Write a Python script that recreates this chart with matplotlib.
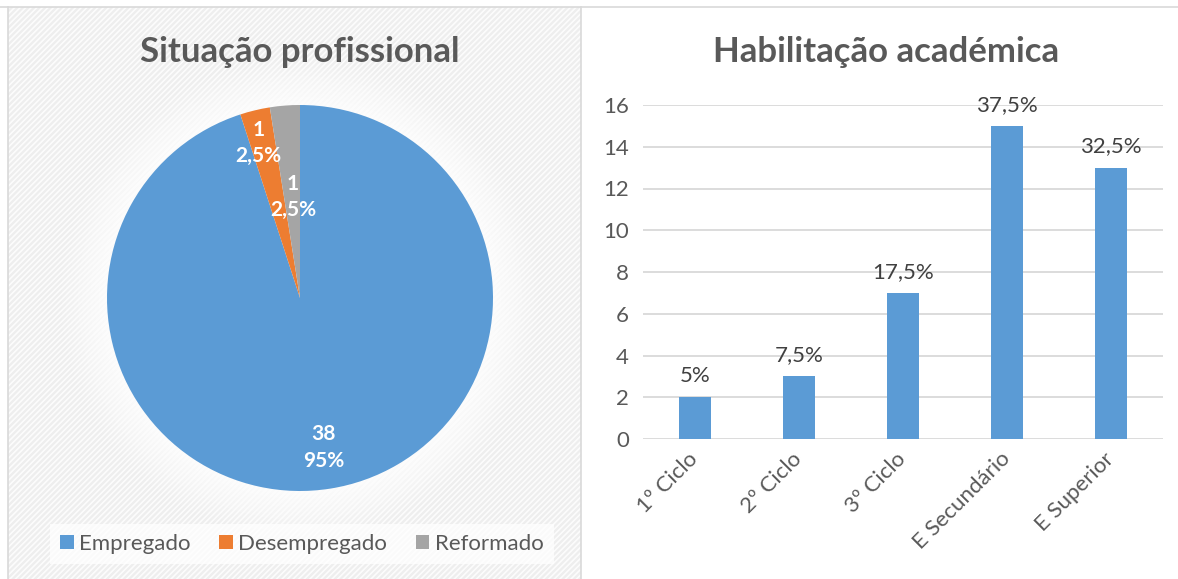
import numpy as np
import matplotlib
matplotlib.use("Agg")
import matplotlib.pyplot as plt
from matplotlib.patches import Rectangle, Circle

# ---- data ----
pie_title = "Situação profissional"
pie_labels = ["Empregado", "Desempregado", "Reformado"]
pie_values = [38, 1, 1]
pie_pct = ["95%", "2,5%", "2,5%"]

bar_title = "Habilitação académica"
bar_categories = ["1º Ciclo", "2º Ciclo", "3º Ciclo", "E Secundário", "E Superior"]
bar_values = [2, 3, 7, 15, 13]
bar_pct = ["5%", "7,5%", "17,5%", "37,5%", "32,5%"]
y_ticks = [0, 2, 4, 6, 8, 10, 12, 14, 16]

pie_colors = ["#5B9BD5", "#ED7D31", "#A5A5A5"]
bar_color = "#5B9BD5"
text_color = "#595959"
FONT = ["Lato", "DejaVu Sans"]
plt.rcParams["font.family"] = FONT
plt.rcParams["hatch.linewidth"] = 1.2

W, H = 1178, 579
fig = plt.figure(figsize=(W / 100, H / 100), dpi=100)
fig.patch.set_facecolor("white")

def fx(px):
    return px / W

def fy(py):
    return 1 - py / H

# left panel background
bg = Rectangle((fx(8), 0), fx(573), fy(7), transform=fig.transFigure,
               facecolor="#EEEEEE", edgecolor="#FCFCFC", hatch="//////",
               linewidth=0, zorder=-5)
fig.add_artist(bg)
# panel borders
fig.add_artist(plt.Line2D([0, 1], [fy(7), fy(7)], transform=fig.transFigure,
                          color="#D9D9D9", lw=1.2))
fig.add_artist(plt.Line2D([fx(8), fx(8)], [0, fy(7)], transform=fig.transFigure,
                          color="#D9D9D9", lw=1.2))
fig.add_artist(plt.Line2D([fx(581), fx(581)], [0, fy(7)], transform=fig.transFigure,
                          color="#D9D9D9", lw=1.2))

# ---- pie ----
axp = fig.add_axes([fx(300 - 193 * 1.3), fy(298 + 193 * 1.3), fx(386 * 1.3), 386 * 1.3 / H])
axp.set_facecolor("none")
axp.axis("off")
wedges, _ = axp.pie(pie_values, colors=pie_colors, startangle=90, counterclock=False,
                    radius=1.0, wedgeprops=dict(edgecolor="none", zorder=3))
# soft glow behind pie
for r, a in zip(np.linspace(1.28, 1.0, 14), np.linspace(0.04, 0.30, 14)):
    axp.add_patch(Circle((0, 0), r, facecolor="white", edgecolor="none", alpha=a, zorder=1))
axp.set_xlim(-1.3, 1.3)
axp.set_ylim(-1.3, 1.3)
label_r = [0.785, 0.83, 0.525]
label_shift = [0, 1.5, -0.6]
for w, v, p, r, s in zip(wedges, pie_values, pie_pct, label_r, label_shift):
    ang = np.deg2rad((w.theta1 + w.theta2) / 2 + s)
    axp.text(r * np.cos(ang), r * np.sin(ang), f"{v}\n{p}", ha="center", va="center",
             color="white", fontsize=15, fontweight="bold", linespacing=1.4, zorder=5)

fig.text(fx(300), fy(52), pie_title, ha="center", va="center", fontsize=25,
         fontweight="bold", color=text_color)

leg = fig.legend(wedges, pie_labels, loc="center", bbox_to_anchor=(fx(302), fy(544)),
                 ncol=3, frameon=True, fontsize=16, handlelength=0.6, handleheight=0.6,
                 handletextpad=0.25, columnspacing=1.3, borderpad=0.45)
leg.get_frame().set_facecolor("white")
leg.get_frame().set_alpha(0.75)
leg.get_frame().set_edgecolor("none")
leg.get_frame().set_boxstyle("square", pad=0.0)
for t in leg.get_texts():
    t.set_color(text_color)

# ---- bars ----
axb = fig.add_axes([fx(643), fy(439), fx(520), 334 / H])
x = np.arange(len(bar_categories))
bars = axb.bar(x, bar_values, width=0.31, color=bar_color, zorder=3)
axb.set_xlim(-0.5, len(bar_categories) - 0.5)
axb.set_ylim(0, 16)
axb.set_yticks(y_ticks)
axb.yaxis.grid(True, color="#D9D9D9", lw=1.3, zorder=0)
axb.set_axisbelow(True)
for sp in axb.spines.values():
    sp.set_visible(False)
axb.tick_params(axis="both", length=0, colors=text_color, labelsize=16)
axb.tick_params(axis="y", pad=10)
axb.set_xticks(x)
axb.set_xticklabels(bar_categories, rotation=45, ha="right", va="center",
                    rotation_mode="anchor")
for lbl in axb.get_xticklabels():
    lbl.set_color(text_color)
axb.tick_params(axis="x", pad=12)
for b, p in zip(bars, bar_pct):
    axb.annotate(p, (b.get_x() + b.get_width() / 2, b.get_height()), xytext=(0, 8),
                 textcoords="offset points", ha="center", va="bottom",
                 fontsize=16, color="#404040")

fig.text(fx(886), fy(52), bar_title, ha="center", va="center", fontsize=25,
         fontweight="bold", color=text_color)

fig.savefig("out.png", dpi=100)
